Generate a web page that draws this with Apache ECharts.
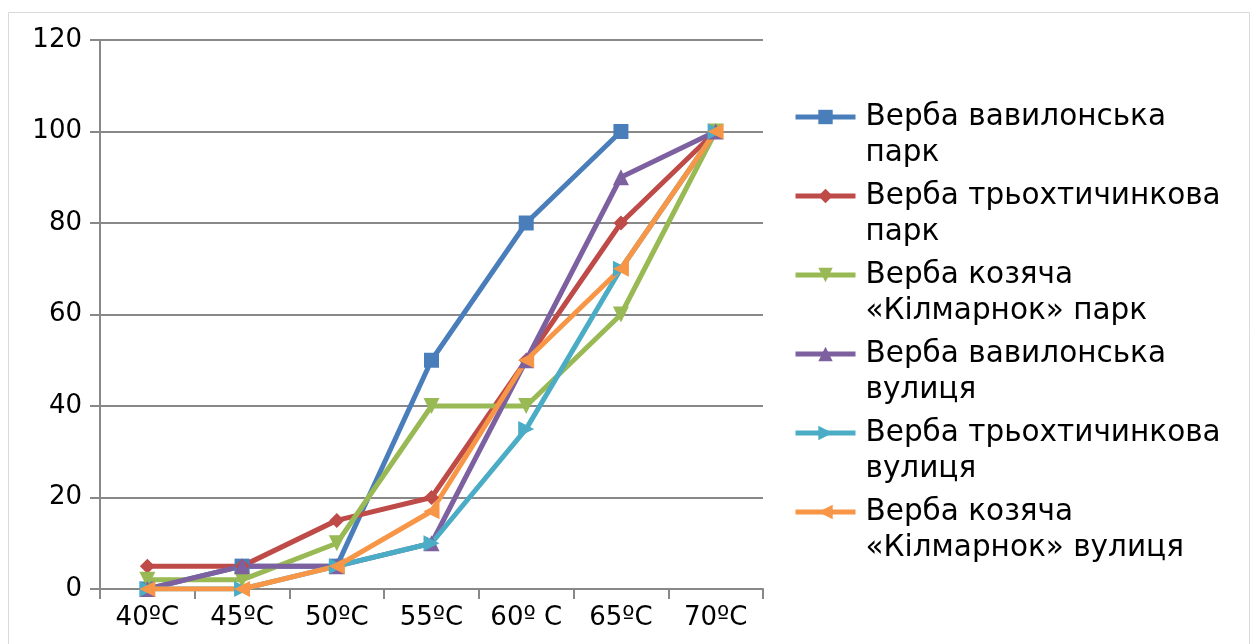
<!DOCTYPE html>
<html>
<head>
<meta charset="utf-8">
<script src="https://cdn.jsdelivr.net/npm/echarts@6/dist/echarts.min.js"></script>
<style>
  html, body { margin: 0; padding: 0; background: #fff; }
  #chart { width: 1258px; height: 644px; }
</style>
</head>
<body>
<div id="chart"></div>
<script>
// Temperature categories and tick values
const categories = ['40ºC', '45ºC', '50ºC', '55ºC', '60º C', '65ºC', '70ºC'];
const yTicks = { min: 0, max: 120, step: 20 };

// Series names (as drawn) and their legend wrapping
const seriesNames = [
  'Верба вавилонська парк',
  'Верба трьохтичинкова парк',
  'Верба козяча «Кілмарнок» парк',
  'Верба вавилонська вулиця',
  'Верба трьохтичинкова вулиця',
  'Верба козяча «Кілмарнок» вулиця'
];
const legendLines = [
  ['Верба вавилонська', 'парк'],
  ['Верба трьохтичинкова', 'парк'],
  ['Верба козяча', '«Кілмарнок» парк'],
  ['Верба вавилонська', 'вулиця'],
  ['Верба трьохтичинкова', 'вулиця'],
  ['Верба козяча', '«Кілмарнок» вулиця']
];

// Values per series
const babylonPark   = [0, 5, 5, 50, 80, 100, '-'];
const triandraPark  = [5, 5, 15, 20, 50, 80, 100];
const capreaPark    = [2, 2, 10, 40, 40, 60, 100];
const babylonStreet = [0, 5, 5, 10, 50, 90, 100];
const triandraStreet= [0, 0, 5, 10, 35, 70, 100];
const capreaStreet  = [0, 0, 5, 17, 50, 70, 100];

const seriesValues = [babylonPark, triandraPark, capreaPark, babylonStreet, triandraStreet, capreaStreet];
const colors = ['#4A7EBB', '#BE4B48', '#98B954', '#7D60A0', '#4BACC6', '#F79646'];
const symbols = ['rect', 'diamond', 'triangle', 'triangle', 'triangle', 'triangle'];
const rotations = [0, 0, 180, 0, -90, 90];
const symbolSizes = [15, 15, 16, 16, 16, 16];

const font = 'DejaVu Sans';
const chart = echarts.init(document.getElementById('chart'));

chart.setOption({
  animation: false,
  backgroundColor: '#fff',
  color: colors,
  graphic: [{
    type: 'rect',
    shape: { x: 8.5, y: 12.5, width: 1241, height: 640 },
    style: { fill: 'none', stroke: '#d9d9d9', lineWidth: 1 },
    silent: true,
    z: -1
  }],
  grid: { left: 100, top: 40, width: 663, height: 549 },
  legend: {
    orient: 'vertical',
    left: 788,
    top: 58,
    height: 560,
    itemWidth: 60,
    itemHeight: 18,
    itemGap: -29,
    data: seriesNames,
    // leading blank line keeps the icon level with the first text line
    formatter: name => '\n' + legendLines[seriesNames.indexOf(name)].join('\n'),
    lineStyle: { width: 5 },
    textStyle: {
      fontFamily: font,
      fontSize: 29.5,
      lineHeight: 36,
      color: '#000',
      padding: [0, 0, 0, 5]
    }
  },
  xAxis: {
    type: 'category',
    data: categories,
    boundaryGap: true,
    axisLine: { lineStyle: { color: '#888', width: 2 } },
    axisTick: { show: true, length: 10, lineStyle: { color: '#888', width: 2 } },
    axisLabel: { fontFamily: font, fontSize: 26, color: '#000', margin: 16 },
    splitLine: { show: false }
  },
  yAxis: {
    type: 'value',
    min: yTicks.min,
    max: yTicks.max,
    interval: yTicks.step,
    axisLine: { show: true, lineStyle: { color: '#888', width: 2 } },
    axisTick: { show: true, length: 10, lineStyle: { color: '#888', width: 2 } },
    axisLabel: { fontFamily: font, fontSize: 26, color: '#000', margin: 18 },
    splitLine: { lineStyle: { color: '#888', width: 2 } }
  },
  series: seriesNames.map((name, i) => ({
    name,
    type: 'line',
    data: seriesValues[i],
    symbol: symbols[i],
    symbolRotate: rotations[i],
    symbolSize: symbolSizes[i],
    showAllSymbol: true,
    lineStyle: { width: 5, color: colors[i] },
    itemStyle: { color: colors[i] },
    connectNulls: false
  }))
});
</script>
</body>
</html>
